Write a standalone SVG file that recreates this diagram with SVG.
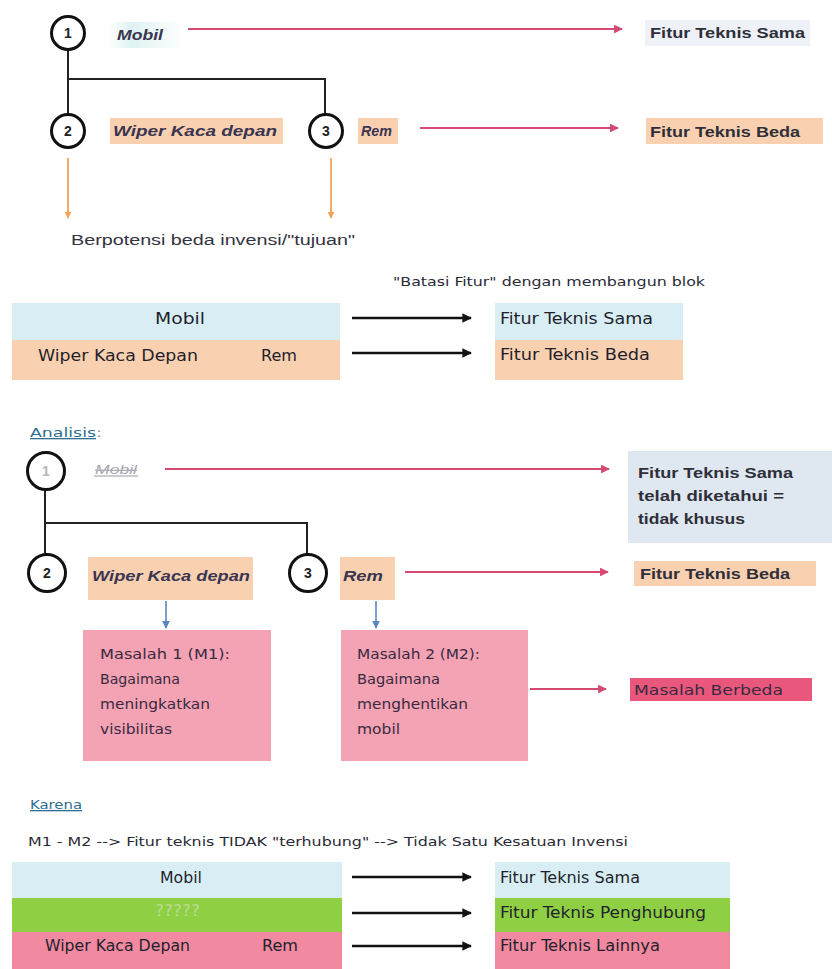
<svg xmlns="http://www.w3.org/2000/svg" width="832" height="969" viewBox="0 0 832 969">
  <style>
    .bg { fill: #ffffff; }
    .circ { fill: #ffffff; stroke: #111111; stroke-width: 3; }
    .num { font-family: "Liberation Sans", Arial, sans-serif; font-size: 14px; font-weight: bold; fill: #222222; text-anchor: middle; }
    .tree { fill: none; stroke: #222222; stroke-width: 2; }
    .lbl { font-family: "Liberation Sans", Arial, sans-serif; font-size: 15px; font-style: italic; font-weight: bold; fill: #3a3550; }
    .feat { font-family: "Liberation Sans", Arial, sans-serif; font-size: 15px; font-weight: bold; fill: #2f2f3a; }
    .plain { font-family: "Liberation Sans", Arial, sans-serif; font-size: 14px; fill: #333340; }
    .cond { font-family: "Liberation Sans Narrow", "DejaVu Sans Condensed", "Liberation Sans", sans-serif; font-size: 15px; fill: #1f1f2c; }
    .small { font-family: "Liberation Sans Narrow", "DejaVu Sans Condensed", "Liberation Sans", sans-serif; font-size: 13px; fill: #2a2a36; }
    .mtxt { font-family: "Liberation Sans Narrow", "DejaVu Sans Condensed", "Liberation Sans", sans-serif; font-size: 14px; fill: #3a2a40; }
    .head { font-family: "Liberation Sans Narrow", "DejaVu Sans Condensed", "Liberation Sans", sans-serif; font-size: 13px; fill: #2f6f8f; text-decoration: underline; }
    .pink { stroke: #d44a72; stroke-width: 2.2; fill: none; }
    .black { stroke: #111111; stroke-width: 2.4; fill: none; }
    .orange { stroke: #f4a15a; stroke-width: 1.8; fill: none; }
    .blue { stroke: #5b86c0; stroke-width: 1.6; fill: none; }
    .cyan { fill: #d8eef4; }
    .peach { fill: #fad1b0; }
    .grey { fill: #dfe7f1; }
    .rose { fill: #f4a3b4; }
    .red { fill: #e9587c; }
    .green { fill: #8fcf43; }
    .roseRow { fill: #f18aa0; }
  </style>
  <defs>
    <marker id="ahPink" viewBox="0 0 10 10" refX="9" refY="5" markerWidth="4" markerHeight="4" orient="auto">
      <path d="M0,0 L10,5 L0,10 z" fill="#d44a72"/>
    </marker>
    <marker id="ahBlack" viewBox="0 0 10 10" refX="9" refY="5" markerWidth="4" markerHeight="4" orient="auto">
      <path d="M0,0 L10,5 L0,10 z" fill="#111111"/>
    </marker>
    <marker id="ahOrange" viewBox="0 0 10 10" refX="9" refY="5" markerWidth="4" markerHeight="4" orient="auto">
      <path d="M0,0 L10,5 L0,10 z" fill="#f4a15a"/>
    </marker>
    <marker id="ahBlue" viewBox="0 0 10 10" refX="9" refY="5" markerWidth="5" markerHeight="5" orient="auto">
      <path d="M0,0 L10,5 L0,10 z" fill="#5b86c0"/>
    </marker>
    <linearGradient id="mobilFade" x1="0" y1="0" x2="1" y2="0">
      <stop offset="0" stop-color="#ffffff"/>
      <stop offset="0.3" stop-color="#dff2f2"/>
      <stop offset="1" stop-color="#ffffff"/>
    </linearGradient>
  </defs>

  <rect class="bg" x="0" y="0" width="832" height="969"/>

  <!-- ===== Part 1: feature tree ===== -->
  <g id="connectors-top">
    <path class="tree" d="M68,49 V115 M68,79 H325 V115"/>
    <line class="pink" x1="188" y1="29" x2="622" y2="29" marker-end="url(#ahPink)"/>
    <line class="pink" x1="420" y1="128" x2="618" y2="128" marker-end="url(#ahPink)"/>
    <line class="orange" x1="68" y1="158" x2="68" y2="218" marker-end="url(#ahOrange)"/>
    <line class="orange" x1="331" y1="158" x2="331" y2="218" marker-end="url(#ahOrange)"/>
  </g>

  <g id="n1">
    <circle class="circ" cx="68" cy="33" r="16.5"/>
    <text class="num" x="68" y="38">1</text>
  </g>
  <g id="mobil-top">
    <rect x="108" y="22" width="78" height="26" fill="url(#mobilFade)"/>
    <text class="lbl" x="117" y="40" textLength="46" lengthAdjust="spacingAndGlyphs">Mobil</text>
  </g>
  <g id="n2">
    <circle class="circ" cx="68" cy="131" r="16.5"/>
    <text class="num" x="68" y="136">2</text>
  </g>
  <g id="wiper-top">
    <rect class="peach" x="110" y="118" width="173" height="26"/>
    <text class="lbl" x="113" y="136" textLength="164" lengthAdjust="spacingAndGlyphs">Wiper Kaca depan</text>
  </g>
  <g id="n3">
    <circle class="circ" cx="326" cy="131" r="16.5"/>
    <text class="num" x="326" y="136">3</text>
  </g>
  <g id="rem-top">
    <rect class="peach" x="358" y="118" width="40" height="26"/>
    <text class="lbl" x="361" y="136" textLength="31" lengthAdjust="spacingAndGlyphs">Rem</text>
  </g>
  <g id="sama-top">
    <rect x="645" y="20" width="165" height="26" fill="#eef2f8"/>
    <text class="feat" x="650" y="38" textLength="155" lengthAdjust="spacingAndGlyphs">Fitur Teknis Sama</text>
  </g>
  <g id="beda-top">
    <rect class="peach" x="646" y="118" width="177" height="26"/>
    <text class="feat" x="650" y="137" textLength="150" lengthAdjust="spacingAndGlyphs">Fitur Teknis Beda</text>
  </g>
  <text class="plain" x="71" y="245" textLength="284" lengthAdjust="spacingAndGlyphs">Berpotensi  beda  invensi/"tujuan"</text>

  <!-- ===== Part 2: block boundary ===== -->
  <text class="small" x="393" y="286" textLength="312" lengthAdjust="spacingAndGlyphs">"Batasi Fitur" dengan membangun blok</text>
  <g id="block-left-2">
    <rect class="cyan" x="12" y="303" width="328" height="38"/>
    <rect class="peach" x="12" y="340" width="328" height="40"/>
    <text class="cond" x="155" y="324" textLength="50" lengthAdjust="spacingAndGlyphs">Mobil</text>
    <text class="cond" x="38" y="361" textLength="160" lengthAdjust="spacingAndGlyphs">Wiper Kaca Depan</text>
    <text class="cond" x="261" y="361" textLength="36" lengthAdjust="spacingAndGlyphs">Rem</text>
  </g>
  <g id="block-right-2">
    <rect class="cyan" x="495" y="303" width="188" height="38"/>
    <rect class="peach" x="495" y="340" width="188" height="40"/>
    <text class="cond" x="500" y="324" textLength="153" lengthAdjust="spacingAndGlyphs">Fitur Teknis Sama</text>
    <text class="cond" x="500" y="360" textLength="150" lengthAdjust="spacingAndGlyphs">Fitur Teknis Beda</text>
  </g>
  <g id="connectors-block-2">
    <line class="black" x1="352" y1="318" x2="471" y2="318" marker-end="url(#ahBlack)"/>
    <line class="black" x1="352" y1="353" x2="471" y2="353" marker-end="url(#ahBlack)"/>
  </g>

  <!-- ===== Part 3: analysis ===== -->
  <text class="head" x="30" y="437" textLength="66" lengthAdjust="spacingAndGlyphs">Analisis</text>
  <text class="small" x="97" y="437" style="fill:#2f6f8f">:</text>

  <g id="connectors-analysis">
    <path class="tree" d="M45,490 V554 M45,523 H307 V554"/>
    <line class="pink" x1="165" y1="469" x2="609" y2="469" marker-end="url(#ahPink)"/>
    <line class="pink" x1="405" y1="572" x2="608" y2="572" marker-end="url(#ahPink)"/>
    <line class="blue" x1="166" y1="601" x2="166" y2="628" marker-end="url(#ahBlue)"/>
    <line class="blue" x1="376" y1="601" x2="376" y2="628" marker-end="url(#ahBlue)"/>
    <line class="pink" x1="530" y1="689" x2="606" y2="689" marker-end="url(#ahPink)"/>
  </g>

  <g id="a1">
    <circle class="circ" cx="46" cy="471" r="18.5"/>
    <text class="num" x="46" y="476" style="fill:#b8b8b8">1</text>
  </g>
  <g id="mobil-analysis">
    <text x="95" y="474" font-family="Liberation Sans, Arial, sans-serif" font-size="12" font-style="italic" fill="#a8a8b0" text-decoration="line-through" textLength="42" lengthAdjust="spacingAndGlyphs">Mobil</text>
    <line x1="94" y1="476" x2="138" y2="476" stroke="#9a9aa2" stroke-width="1"/>
  </g>
  <g id="a2">
    <circle class="circ" cx="47" cy="573" r="18.5"/>
    <text class="num" x="47" y="578">2</text>
  </g>
  <g id="wiper-analysis">
    <rect class="peach" x="88" y="557" width="165" height="43"/>
    <text class="lbl" x="92" y="581" textLength="158" lengthAdjust="spacingAndGlyphs">Wiper Kaca depan</text>
  </g>
  <g id="a3">
    <circle class="circ" cx="308" cy="573" r="18.5"/>
    <text class="num" x="308" y="578">3</text>
  </g>
  <g id="rem-analysis">
    <rect class="peach" x="340" y="557" width="55" height="43"/>
    <text class="lbl" x="343" y="581" textLength="40" lengthAdjust="spacingAndGlyphs">Rem</text>
  </g>
  <g id="sama-analysis">
    <rect class="grey" x="628" y="451" width="204" height="92"/>
    <text class="feat" x="638" y="478" textLength="155" lengthAdjust="spacingAndGlyphs">Fitur Teknis Sama</text>
    <text class="feat" x="638" y="501" textLength="146" lengthAdjust="spacingAndGlyphs">telah diketahui =</text>
    <text class="feat" x="638" y="524" textLength="107" lengthAdjust="spacingAndGlyphs">tidak khusus</text>
  </g>
  <g id="beda-analysis">
    <rect class="peach" x="634" y="561" width="182" height="25"/>
    <text class="feat" x="640" y="579" textLength="150" lengthAdjust="spacingAndGlyphs">Fitur Teknis Beda</text>
  </g>
  <g id="m1">
    <rect class="rose" x="83" y="630" width="188" height="131"/>
    <text class="mtxt" x="100" y="659" textLength="130" lengthAdjust="spacingAndGlyphs">Masalah 1 (M1):</text>
    <text class="mtxt" x="100" y="684" textLength="80" lengthAdjust="spacingAndGlyphs">Bagaimana</text>
    <text class="mtxt" x="100" y="709" textLength="110" lengthAdjust="spacingAndGlyphs">meningkatkan</text>
    <text class="mtxt" x="100" y="734" textLength="72" lengthAdjust="spacingAndGlyphs">visibilitas</text>
  </g>
  <g id="m2">
    <rect class="rose" x="341" y="630" width="187" height="131"/>
    <text class="mtxt" x="357" y="659" textLength="123" lengthAdjust="spacingAndGlyphs">Masalah 2 (M2):</text>
    <text class="mtxt" x="357" y="684" textLength="83" lengthAdjust="spacingAndGlyphs">Bagaimana</text>
    <text class="mtxt" x="357" y="709" textLength="111" lengthAdjust="spacingAndGlyphs">menghentikan</text>
    <text class="mtxt" x="357" y="734" textLength="43" lengthAdjust="spacingAndGlyphs">mobil</text>
  </g>
  <g id="masalah-beda">
    <rect class="red" x="630" y="678" width="182" height="23"/>
    <text class="mtxt" x="634" y="695" textLength="149" lengthAdjust="spacingAndGlyphs">Masalah Berbeda</text>
  </g>

  <!-- ===== Part 4: conclusion ===== -->
  <text class="head" x="30" y="809" textLength="52" lengthAdjust="spacingAndGlyphs">Karena</text>
  <text class="small" x="28" y="846" textLength="600" lengthAdjust="spacingAndGlyphs">M1 - M2 --&gt; Fitur teknis TIDAK "terhubung" --&gt; Tidak Satu Kesatuan Invensi</text>

  <g id="block-left-4">
    <rect class="cyan" x="12" y="862" width="330" height="37"/>
    <rect class="green" x="12" y="898" width="330" height="35"/>
    <rect class="roseRow" x="12" y="932" width="330" height="37"/>
    <text class="cond" x="160" y="883" textLength="42" lengthAdjust="spacingAndGlyphs">Mobil</text>
    <text class="cond" x="155" y="916" style="fill:#b9dc92" textLength="45" lengthAdjust="spacingAndGlyphs">?????</text>
    <text class="cond" x="45" y="951" textLength="145" lengthAdjust="spacingAndGlyphs">Wiper Kaca Depan</text>
    <text class="cond" x="262" y="951" textLength="36" lengthAdjust="spacingAndGlyphs">Rem</text>
  </g>
  <g id="block-right-4">
    <rect class="cyan" x="495" y="862" width="235" height="37"/>
    <rect class="green" x="495" y="898" width="235" height="35"/>
    <rect class="roseRow" x="495" y="932" width="235" height="37"/>
    <text class="cond" x="500" y="883" textLength="140" lengthAdjust="spacingAndGlyphs">Fitur Teknis Sama</text>
    <text class="cond" x="500" y="918" textLength="206" lengthAdjust="spacingAndGlyphs">Fitur Teknis Penghubung</text>
    <text class="cond" x="500" y="951" textLength="160" lengthAdjust="spacingAndGlyphs">Fitur Teknis Lainnya</text>
  </g>
  <g id="connectors-block-4">
    <line class="black" x1="352" y1="877" x2="471" y2="877" marker-end="url(#ahBlack)"/>
    <line class="black" x1="352" y1="913" x2="471" y2="913" marker-end="url(#ahBlack)"/>
    <line class="black" x1="352" y1="946" x2="471" y2="946" marker-end="url(#ahBlack)"/>
  </g>
</svg>
